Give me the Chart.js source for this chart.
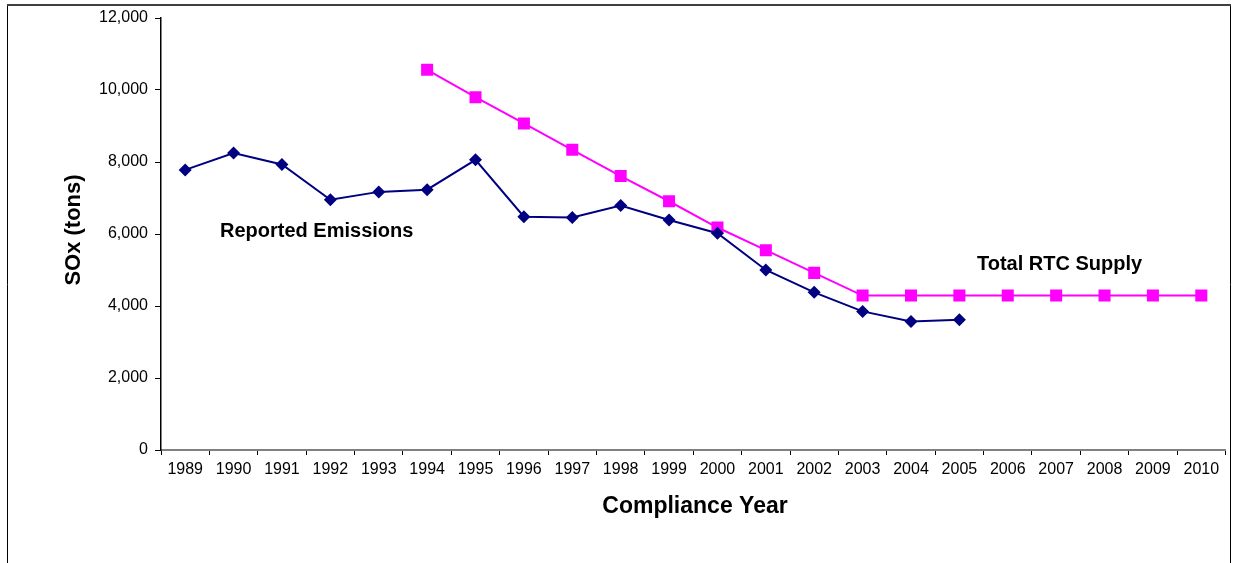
<!DOCTYPE html>
<html>
<head>
<meta charset="utf-8">
<script src="https://cdn.jsdelivr.net/npm/chart.js@4/dist/chart.umd.min.js"></script>
<style>
  html, body { margin: 0; padding: 0; background: #fff; }
  #wrap { width: 1234px; height: 563px; position: relative; }
</style>
</head>
<body>
<div id="wrap"><canvas id="chart"></canvas></div>
<script>
const years = ['1989','1990','1991','1992','1993','1994','1995','1996','1997','1998','1999',
               '2000','2001','2002','2003','2004','2005','2006','2007','2008','2009','2010'];
const reportedEmissions = [7780, 8250, 7930, 6950, 7170, 7230, 8060, 6480, 6460, 6790, 6390,
                           6020, 5000, 4380, 3850, 3570, 3620, null, null, null, null, null];
const rtcSupply = [null, null, null, null, null, 10560, 9800, 9070, 8340, 7610, 6910,
                   6180, 5550, 4920, 4290, 4290, 4290, 4290, 4290, 4290, 4290, 4290];
const yTicks = [0, 2000, 4000, 6000, 8000, 10000, 12000];

const FONT = 'Arial, "Liberation Sans", sans-serif';

// frame, axis titles and the two series labels
const decorations = {
    id: 'decorations',
    afterDraw(chart) {
        const ctx = chart.ctx;
        ctx.save();
        ctx.strokeStyle = '#000';
        ctx.lineWidth = 1;
        ctx.beginPath();
        ctx.moveTo(7.5, 600);
        ctx.lineTo(7.5, 5);
        ctx.moveTo(1230.5, 5);
        ctx.lineTo(1230.5, 600);
        ctx.stroke();
        ctx.strokeStyle = '#404040';
        ctx.lineWidth = 2;
        ctx.beginPath();
        ctx.moveTo(7, 5);
        ctx.lineTo(1231, 5);
        ctx.stroke();

        ctx.fillStyle = '#000';
        ctx.font = 'bold 23px ' + FONT;
        ctx.textAlign = 'center';
        ctx.textBaseline = 'middle';
        ctx.fillText('Compliance Year', 695, 507);

        ctx.save();
        ctx.translate(74, 230);
        ctx.rotate(-Math.PI / 2);
        ctx.font = 'bold 22px ' + FONT;
        ctx.fillText('SOx (tons)', 0, 0);
        ctx.restore();

        ctx.font = 'bold 20px ' + FONT;
        ctx.textAlign = 'left';
        ctx.fillText('Reported Emissions', 220, 231);
        ctx.fillText('Total RTC Supply', 977, 264);
        ctx.restore();
    }
};

new Chart(document.getElementById('chart'), {
    type: 'line',
    data: {
        labels: years,
        datasets: [
            {
                label: 'Reported Emissions',
                data: reportedEmissions,
                borderColor: '#000080',
                backgroundColor: '#000080',
                borderWidth: 2,
                pointStyle: 'rectRot',
                pointRadius: 6.5,
                pointBorderWidth: 0,
                tension: 0,
                spanGaps: false,
            },
            {
                label: 'Total RTC Supply',
                data: rtcSupply,
                borderColor: '#FF00FF',
                backgroundColor: '#FF00FF',
                borderWidth: 2,
                pointStyle: 'rect',
                pointRadius: 8.5,
                pointBorderWidth: 0,
                tension: 0,
                spanGaps: false,
            },
        ],
    },
    options: {
        responsive: true,
        maintainAspectRatio: false,
        animation: false,
        events: [],
        layout: { padding: { left: 8, right: 5, top: 18, bottom: 0 } },
        plugins: {
            legend: { display: false },
            tooltip: { enabled: false },
        },
        scales: {
            x: {
                offset: true,
                border: { color: '#808080', width: 2 },
                grid: { offset: true, drawOnChartArea: false, drawTicks: true, tickLength: 5, color: '#000' },
                ticks: { color: '#000', font: { family: FONT, size: 16 }, padding: 5, maxRotation: 0, autoSkip: false },
                afterFit(scale) {
                    scale.height = 113;
                    scale.paddingLeft = 0;
                    scale.paddingRight = 0;
                },
            },
            y: {
                min: 0,
                max: 12000,
                afterBuildTicks(scale) { scale.ticks = yTicks.map(v => ({ value: v })); },
                border: { color: '#000', width: 1.5 },
                grid: { drawOnChartArea: false, drawTicks: true, tickLength: 6, color: '#000' },
                ticks: {
                    color: '#000',
                    font: { family: FONT, size: 16 },
                    padding: 7,
                    callback: v => v.toLocaleString('en-US'),
                },
                afterFit(scale) { scale.width = 153; },
            },
        },
    },
    plugins: [decorations],
});
</script>
</body>
</html>
